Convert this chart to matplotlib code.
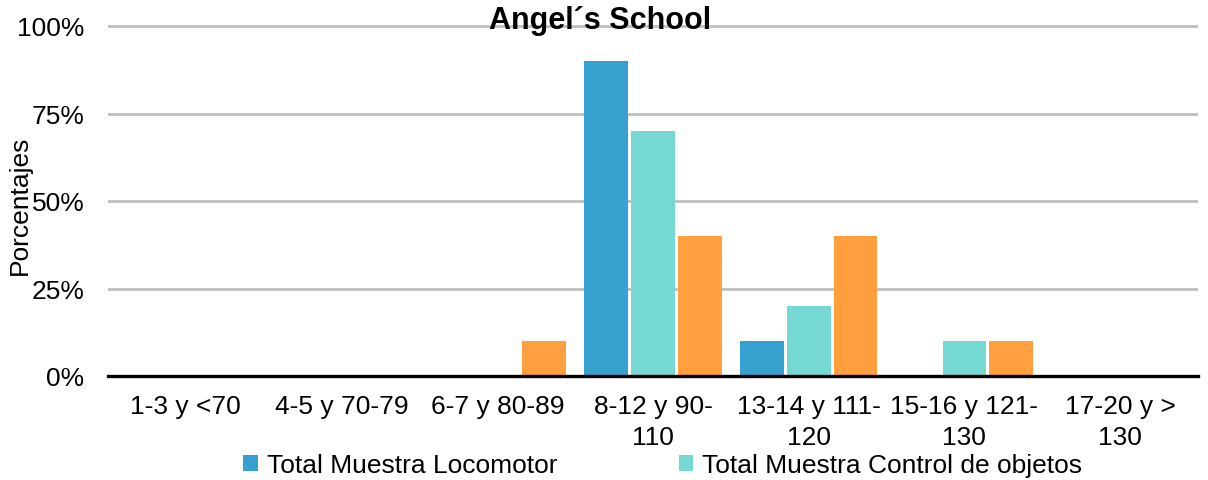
from matplotlib import pyplot as plt
import numpy as np

categorias = [
    "1-3 y <70",
    "4-5 y 70-79",
    "6-7 y 80-89",
    "8-12 y 90-\n110",
    "13-14 y 111-\n120",
    "15-16 y 121-\n130",
    "17-20 y >\n130",
]
locomotor = [0, 0, 0, 0.90, 0.10, 0, 0]
control_objetos = [0, 0, 0, 0.70, 0.20, 0.10, 0]
total_muestra = [0, 0, 0.10, 0.40, 0.40, 0.10, 0]

yticks = [0, 0.25, 0.50, 0.75, 1.0]
ytick_labels = ["0%", "25%", "50%", "75%", "100%"]

plt.rcParams["font.family"] = ["Liberation Sans", "DejaVu Sans"]

W, H = 1208, 481
fig = plt.figure(figsize=(W / 100, H / 100), dpi=100)
ax = fig.add_axes([108 / W, (H - 377) / H, (1198 - 108) / W, (377 - 20) / H])

x = np.arange(len(categorias))
ancho = 0.28
paso = 0.30

b1 = ax.bar(x - paso, locomotor, ancho, color="#36A0CF", label="Total Muestra Locomotor")
b2 = ax.bar(x, control_objetos, ancho, color="#76D8D2", label="Total Muestra Control de objetos")
b3 = ax.bar(x + paso, total_muestra, ancho, color="#FF9F3D")

ax.set_xlim(-0.5, len(categorias) - 0.5)
ax.set_ylim(0, 1.02)
ax.set_yticks(yticks)
ax.set_yticklabels(ytick_labels, fontsize=19)
ax.set_xticks(x)
ax.set_xticklabels(categorias, fontsize=19, linespacing=1.35)
ax.tick_params(axis="y", length=0, pad=17)
ax.tick_params(axis="x", length=0, pad=13)

ax.grid(axis="y", color="#BFBFBF", lw=2)
ax.set_axisbelow(True)
for s in ["top", "right", "left"]:
    ax.spines[s].set_visible(False)
ax.spines["bottom"].set_color("black")
ax.spines["bottom"].set_linewidth(2.4)
ax.spines["bottom"].set_zorder(5)

fig.text(20 / W, 1 - 205 / H, "Porcentajes", rotation=90, fontsize=19,
         ha="center", va="center")
fig.text(600 / W, 1 - 21 / H, "Angel´s School", fontsize=22, fontweight="bold",
         ha="center", va="center")

fig.legend(handles=[b1, b2], loc="center left", bbox_to_anchor=(243 / W, 1 - 466 / H),
           ncol=2, frameon=False, fontsize=19, borderpad=0, borderaxespad=0,
           handlelength=0.55, handleheight=0.55, handletextpad=0.35, columnspacing=4.6)

fig.savefig("out.png", dpi=100)
